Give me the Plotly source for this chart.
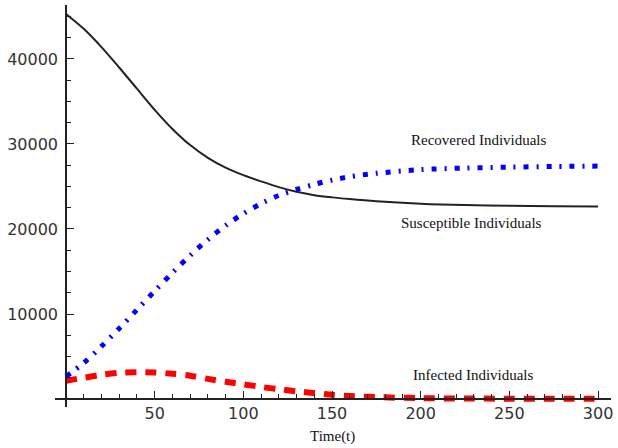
import plotly.graph_objects as go

# Time points
t = [0, 10, 20, 30, 40, 50, 60, 70, 80, 90, 100, 110, 120, 130, 140, 150,
     160, 175, 200, 225, 250, 275, 300]

susceptible = [45300, 43550, 41400, 39000, 36500, 34020, 31770, 29870, 28370,
               27220, 26330, 25600, 24930, 24380, 23980, 23720, 23520, 23270,
               22980, 22810, 22720, 22670, 22650]

recovered = [2650, 4250, 6200, 8300, 10500, 12700, 14850, 16880, 18760, 20410,
             21810, 22990, 23950, 24650, 25250, 25750, 26150, 26550, 26980,
             27170, 27270, 27350, 27400]

infected = [2150, 2500, 2850, 3080, 3150, 3120, 2980, 2740, 2370, 2030, 1730,
            1420, 1150, 900, 700, 500, 350, 220, 100, 60, 40, 30, 20]

x_ticks = [50, 100, 150, 200, 250, 300]
y_ticks = [10000, 20000, 30000, 40000]

labels = [
    ("Recovered Individuals", 232.6, 30470),
    ("Susceptible Individuals", 228.7, 20700),
    ("Infected Individuals", 229.8, 2820),
]

XR = [-6.2, 307.3]
YR = [-940, 46350]

fig = go.Figure()
fig.add_trace(go.Scatter(x=t, y=infected, mode="lines", line_shape="spline",
                         line=dict(color="#ff0000", width=6, dash="11px,9px", smoothing=0.9)))
fig.add_trace(go.Scatter(x=t, y=recovered, mode="lines", line_shape="spline",
                         line=dict(color="#0000ff", width=5, dash="5px,8px,2px,8px",
                                   smoothing=0.9)))
fig.add_trace(go.Scatter(x=t, y=susceptible, mode="lines", line_shape="spline",
                         line=dict(color="#222222", width=2, smoothing=0.9)))

for txt, lx, ly in labels:
    fig.add_annotation(x=lx, y=ly, xref="x", yref="y", text=txt, showarrow=False,
                       font=dict(family="Liberation Serif", size=15, color="#111111"))

fig.add_annotation(x=150, y=-0.0746, xref="x", yref="paper", text="Time(t)",
                   showarrow=False, yanchor="middle",
                   font=dict(family="Liberation Serif", size=15, color="#111111"))

xpos = (0 - XR[0]) / (XR[1] - XR[0])
ypos = (0 - YR[0]) / (YR[1] - YR[0])

fig.update_layout(
    width=618, height=448,
    margin=dict(l=55, r=5, t=5, b=41),
    paper_bgcolor="white", plot_bgcolor="white",
    showlegend=False,
    font=dict(family="DejaVu Sans", size=16, color="#333333"),
    xaxis=dict(range=XR, anchor="free", position=ypos, showgrid=False, zeroline=False,
               showline=True, linecolor="#222222", linewidth=1.5,
               tickmode="array", tickvals=x_ticks, ticks="inside", ticklen=7,
               tickcolor="#222222", tickwidth=1.2,
               minor=dict(dtick=10, tick0=0, ticks="inside", ticklen=4,
                          tickcolor="#222222", tickwidth=1, showgrid=False)),
    yaxis=dict(range=YR, anchor="free", position=xpos, showgrid=False, zeroline=False,
               showline=True, linecolor="#222222", linewidth=1.5,
               tickmode="array", tickvals=y_ticks, ticktext=[str(v) for v in y_ticks],
               ticks="inside", ticklen=7,
               tickcolor="#222222", tickwidth=1.2, ticklabelstandoff=4,
               minor=dict(dtick=2500, tick0=0, ticks="inside", ticklen=4,
                          tickcolor="#222222", tickwidth=1, showgrid=False)),
)

fig.write_html("out.html")
